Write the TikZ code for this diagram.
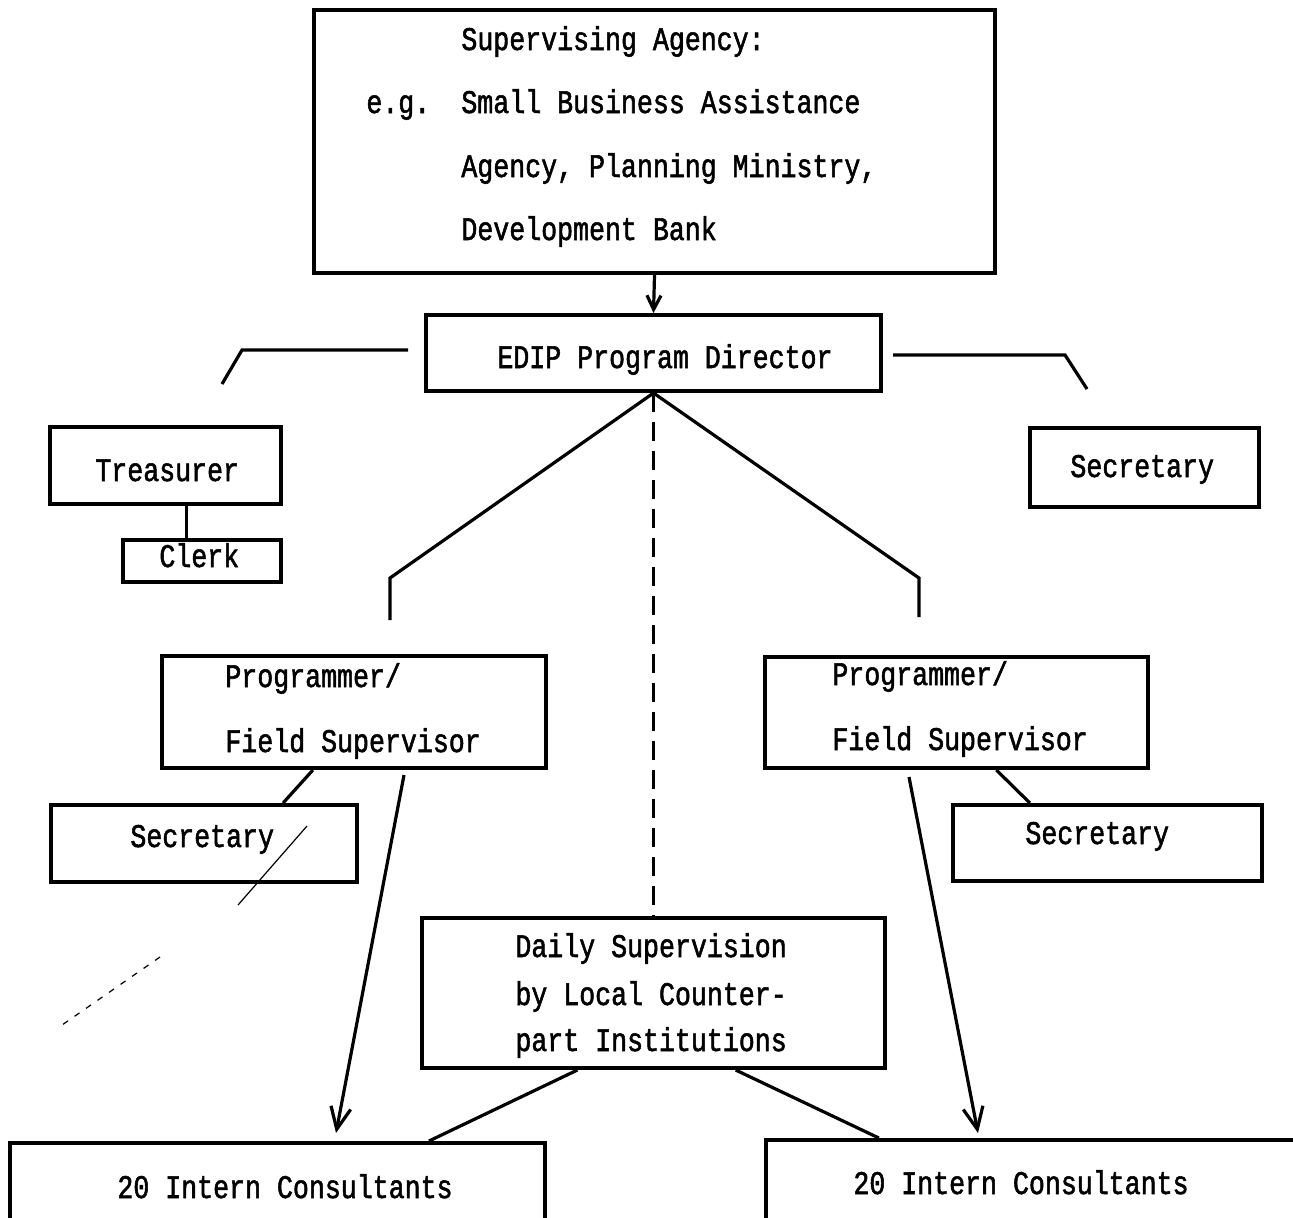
\documentclass[tikz,border=0pt]{standalone}
\usepackage{fontspec}
\setmonofont[FakeStretch=0.806,FakeBold=1.6]{Liberation Mono}
\usetikzlibrary{arrows.meta,fit,calc}
\begin{document}
\begin{tikzpicture}[x=0.5pt,y=-0.5pt,
  box/.style={draw,line width=2pt,inner sep=0pt},
  lbl/.style={anchor=base west,inner sep=0pt,font=\ttfamily\fontsize{16.5}{18}\selectfont},
  conn/.style={line width=1.6pt},
  arr/.style={conn,-{Straight Barb[length=11pt,width=10pt,line width=1.6pt]}},
  smallarr/.style={conn,-{Straight Barb[length=7pt,width=7pt,line width=1.6pt]}},
  dashconn/.style={conn,dash pattern=on 9.5pt off 5pt},
  stray/.style={line width=0.6pt}]
\useasboundingbox (0,0) rectangle (1293,1217);

% boxes
\node[box,fit={(314,10) (995,273)}] (sup) {};
\node[box,fit={(426,315) (881,391)}] (edip) {};
\node[box,fit={(50,427) (281,504)}] (treas) {};
\node[box,fit={(123,540) (281,582)}] (clerk) {};
\node[box,fit={(1030,428) (1259,507)}] (rsec) {};
\node[box,fit={(162,656) (546,768)}] (lprog) {};
\node[box,fit={(51,805) (357,882)}] (lsec) {};
\node[box,fit={(765,657) (1148,768)}] (rprog) {};
\node[box,fit={(953,805) (1262,881)}] (rsecb) {};
\node[box,fit={(422,918) (885,1068)}] (daily) {};
\node[box,fit={(10,1143) (545,1240)}] (lint) {};
\node[box,fit={(766,1140) (1310,1240)}] (rint) {};

% texts
\node[lbl] (t1) at (461,50) {Supervising Agency:};
\node[lbl] (t2) at (366,113) {e.g.};
\node[lbl] (t3) at (461,113) {Small Business Assistance};
\node[lbl] (t4) at (461,177) {Agency, Planning Ministry,};
\node[lbl] (t5) at (461,240) {Development Bank};
\node[lbl] (t6) at (497,368) {EDIP Program Director};
\node[lbl] (t7) at (95,481) {Treasurer};
\node[lbl] (t8) at (159,567) {Clerk};
\node[lbl] (t9) at (1070,477) {Secretary};
\node[lbl] (t10) at (225,687) {Programmer/};
\node[lbl] (t11) at (225,752) {Field Supervisor};
\node[lbl] (t12) at (130,847) {Secretary};
\node[lbl] (t13) at (832,685) {Programmer/};
\node[lbl] (t14) at (832,750) {Field Supervisor};
\node[lbl] (t15) at (1025,844) {Secretary};
\node[lbl] (t16) at (515,957) {Daily Supervision};
\node[lbl] (t17) at (515,1005) {by Local Counter-};
\node[lbl] (t18) at (515,1051) {part Institutions};
\node[lbl] (t19) at (117,1198) {20 Intern Consultants};
\node[lbl] (t20) at (853,1194) {20 Intern Consultants};

% free ends
\coordinate (lbA) at (408,350);
\coordinate (lbB) at (222,384);
\coordinate (rbA) at (893,355);
\coordinate (rbB) at (1087,389);
\coordinate (lpt) at (390,620);
\coordinate (rpt) at (919,617);
\coordinate (la0) at (404,775);
\coordinate (la1) at (336,1133);
\coordinate (ra0) at (909,777);
\coordinate (ra1) at (978,1133);
\coordinate (ctop) at ($(clerk.north west)!0.405!(clerk.north east)$);

% connectors
\draw[smallarr] (sup.south) -- (edip.north);
\draw[conn] (lbA) -- (242,350) -- (lbB);
\draw[conn] (rbA) -- (1065,355) -- (rbB);
\draw[conn] (edip.south) -- (390,578) -- (lpt);
\draw[conn] (edip.south) -- (919,578) -- (rpt);
\draw[dashconn] (edip.south) -- (daily.north);
\draw[conn] (ctop |- treas.south) -- (ctop);
\draw[conn] ($(lprog.south west)!0.394!(lprog.south east)$) -- ($(lsec.north west)!0.755!(lsec.north east)$);
\draw[conn] ($(rprog.south west)!0.603!(rprog.south east)$) -- ($(rsecb.north west)!0.252!(rsecb.north east)$);
\draw[arr] (la0) -- (la1);
\draw[arr] (ra0) -- (ra1);
\draw[conn] ($(daily.south west)!0.337!(daily.south east)$) -- ($(lint.north west)!0.781!(lint.north east)$);
\draw[conn] ($(daily.south west)!0.676!(daily.south east)$) -- ($(rint.north west)!0.2096!(rint.north east)$);

% scan marks
\coordinate (s0) at (307,826);
\coordinate (s1) at (238,905);
\coordinate (s2) at (160,957);
\coordinate (s3) at (62,1025);
\draw[stray] (s0) -- (s1);
\draw[stray,dash pattern=on 3pt off 4pt] (s2) -- (s3);
\end{tikzpicture}
\end{document}
